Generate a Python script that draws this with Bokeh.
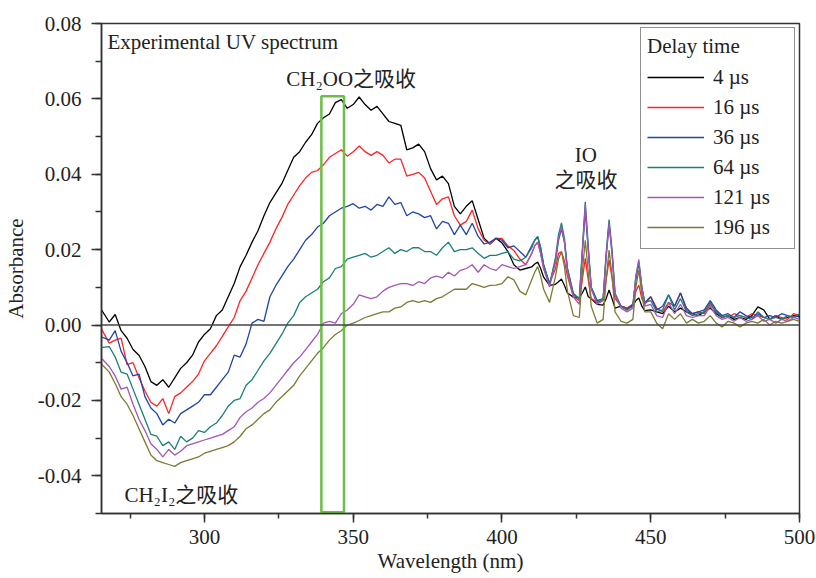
import numpy as np
from bokeh.plotting import figure
from bokeh.models import (Range1d, SingleIntervalTicker, NumeralTickFormatter, Span,
                          Label, Legend, LegendItem)
from bokeh.embed import file_html
from bokeh.resources import INLINE

# ---------------- data (absorbance values in units of 1e-3) ----------------
wavelength_nm = [
    265, 268, 270, 272, 274, 276, 278, 280, 282, 284, 286, 288, 290, 292, 294, 296, 298, 300,
    302, 304, 306, 308, 310, 312, 314, 316, 318, 320, 322, 324, 326, 328, 330, 332, 334, 336,
    338, 340, 342, 344, 346, 348, 350, 352, 354, 356, 358, 360, 362, 364, 366, 368, 370, 372,
    374, 376, 378, 380, 382, 384, 386, 388, 390, 392, 394, 396, 398, 400, 402, 404, 406, 408, 410,
    411, 412, 413, 414, 416, 418, 419, 420, 421, 422, 424, 426, 427, 428, 429, 430, 432, 434,
    435, 436, 437, 438, 440, 442, 444, 445, 446, 447, 448, 450,
    452, 454, 456, 458, 460, 462, 464, 466, 468, 470, 472, 474, 476, 478, 480, 482, 484, 486,
    488, 490, 492, 494, 496, 498, 500]

abs_4us = [
    4.5, 0.8, 2.8, -1.5, -3.5, -6.5, -8.0, -11.0, -15.0, -16.0, -14.5, -16.5, -14.0, -11.5, -10.0, -8.0, -4.5, -2.5,
    -1.0, 2.5, 4.0, 7.5, 11.0, 15.5, 18.5, 22.0, 25.0, 29.0, 32.5, 35.0, 37.5, 41.0, 44.5, 46.0, 48.5, 50.5,
    53.5, 55.0, 56.0, 59.0, 59.8, 57.5, 58.5, 60.5, 58.5, 57.0, 58.0, 56.0, 54.0, 53.5, 53.0, 46.5, 47.0, 48.0,
    46.0, 41.5, 38.5, 39.5, 37.5, 31.5, 29.5, 31.5, 33.0, 28.0, 23.0, 21.5, 23.0, 21.8, 19.5, 16.0, 14.6, 15.0, 15.4,
    16.2, 16.7, 15.0, 12.7, 10.5, 10.8, 11.5, 12.2, 10.5, 8.5, 7.4, 7.2, 8.5, 10.1, 7.5, 7.0, 5.5, 5.3,
    7.0, 9.3, 7.0, 4.5, 5.0, 4.5, 5.0, 6.5, 7.2, 5.0, 3.8, 4.0,
    3.5, 3.0, 5.0, 3.5, 4.5, 3.5, 3.0, 2.5, 3.5, 4.5, 3.0, 2.0, 2.5, 1.5, 2.0, 1.5, 2.5, 4.8,
    4.0, 1.5, 2.5, 1.5, 2.0, 2.5, 2.2]

abs_16us = [
    -0.5, -4.8, -4.0, -3.5, -10.5, -10.0, -14.0, -17.5, -20.5, -21.5, -19.5, -23.5, -19.0, -18.0, -16.5, -15.0, -13.0, -9.5,
    -7.5, -5.5, -3.0, -0.5, 2.0, 6.5, 9.0, 12.5, 16.0, 19.0, 22.0, 25.5, 28.5, 32.0, 34.5, 37.0, 39.0, 40.5,
    41.0, 42.5, 44.5, 45.5, 46.5, 44.8, 46.0, 47.5, 46.0, 45.0, 46.0, 45.0, 43.0, 44.0, 44.0, 39.5, 40.0, 40.5,
    39.0, 35.5, 32.0, 33.5, 34.0, 29.0, 26.5, 27.5, 30.5, 25.5, 22.5, 21.5, 23.0, 23.0, 21.0, 19.8, 17.5, 16.0, 19.0,
    21.0, 22.0, 19.0, 15.0, 11.1, 15.0, 19.0, 19.4, 17.0, 13.0, 7.5, 6.5, 12.0, 17.7, 12.0, 7.0, 6.0, 6.5,
    12.0, 17.2, 12.5, 7.0, 5.0, 4.5, 5.5, 9.0, 10.6, 7.0, 5.5, 7.5,
    4.5, 3.5, 6.0, 5.0, 8.5, 4.0, 3.0, 3.5, 3.0, 5.5, 3.5, 2.5, 2.0, 3.0, 2.5, 2.0, 3.0, 2.5,
    2.0, 1.5, 2.5, 2.0, 1.5, 3.0, 2.5]

abs_36us = [
    -3.0, -4.0, -1.5, -7.0, -10.0, -13.5, -13.0, -19.0, -22.0, -23.5, -26.5, -25.0, -26.0, -23.5, -22.5, -21.5, -20.5, -18.5,
    -18.5, -16.5, -14.5, -12.5, -8.0, -8.5, -5.0, 0.5, 1.5, 1.0, 7.5, 10.5, 13.0, 15.5, 17.5, 20.0, 22.5, 24.0,
    26.0, 27.0, 29.0, 30.0, 31.0, 31.5, 32.2, 31.0, 31.5, 30.5, 32.0, 31.5, 34.0, 32.0, 32.5, 29.0, 30.0, 29.5,
    28.5, 29.0, 25.5, 27.5, 27.0, 24.0, 26.5, 24.0, 27.0, 23.5, 21.5, 22.0, 23.0, 22.5, 20.5, 21.0, 19.5, 18.0, 21.0,
    22.5, 23.4, 20.5, 16.0, 11.0, 17.0, 22.5, 25.5, 22.0, 15.0, 8.4, 7.0, 19.0, 30.5, 20.0, 10.0, 6.5, 7.0,
    18.0, 27.0, 19.0, 8.0, 5.0, 4.0, 5.5, 12.0, 16.5, 10.0, 6.0, 7.5,
    4.0, 5.0, 8.0, 5.0, 8.5, 4.5, 3.0, 3.5, 4.0, 6.5, 4.0, 2.5, 3.0, 2.0, 3.5, 2.5, 2.0, 3.0,
    2.0, 2.5, 2.0, 3.0, 2.5, 2.0, 2.5]

abs_64us = [
    -6.0, -5.7, -8.5, -12.5, -13.0, -17.0, -21.0, -25.0, -29.0, -29.5, -32.0, -31.0, -33.0, -29.5, -31.0, -30.0, -28.0, -28.5,
    -27.0, -26.0, -24.0, -21.5, -20.0, -19.5, -16.0, -14.5, -12.0, -9.5, -7.5, -5.0, -2.5, 0.5, 2.5, 6.0, 7.5, 8.5,
    9.5, 11.5, 12.5, 15.0, 15.5, 17.5, 18.0, 18.5, 19.0, 18.0, 18.5, 19.5, 20.5, 19.0, 20.0, 19.5, 20.5, 20.5,
    19.5, 19.5, 18.5, 20.5, 22.0, 19.5, 20.0, 20.0, 20.5, 19.0, 17.7, 18.5, 18.5, 19.0, 19.4, 17.5, 17.0, 18.0, 20.5,
    22.5, 23.5, 20.5, 16.0, 10.6, 18.0, 24.0, 27.1, 23.0, 15.0, 8.0, 7.0, 20.0, 32.7, 21.0, 10.0, 6.0, 7.0,
    19.0, 28.0, 20.0, 8.5, 5.0, 4.0, 5.0, 13.0, 16.8, 10.0, 6.0, 6.5,
    3.5, 4.0, 8.0, 4.0, 7.0, 3.5, 2.5, 3.0, 3.5, 6.0, 3.5, 2.0, 2.5, 2.0, 2.5, 2.0, 1.5, 3.5,
    2.0, 1.5, 2.0, 1.5, 2.5, 2.0, 3.0]

abs_121us = [
    -8.5, -11.0, -13.5, -17.0, -16.5, -21.0, -25.0, -28.0, -31.5, -33.0, -35.0, -33.0, -34.5, -33.5, -32.0, -31.5, -31.0, -30.5,
    -30.0, -29.5, -29.0, -28.0, -27.0, -24.5, -23.0, -22.0, -20.5, -19.5, -18.0, -16.0, -14.0, -12.0, -10.0, -8.5, -6.5, -4.5,
    -2.5, 0.5, 1.0, 0.5, 3.0, 4.0, 5.5, 8.0, 7.5, 7.0, 7.5, 9.0, 10.0, 10.5, 11.0, 11.0, 10.5, 11.5,
    11.0, 12.5, 13.0, 12.5, 14.0, 13.0, 14.5, 15.0, 16.0, 14.0, 16.0, 15.0, 14.5, 16.0, 15.5, 15.0, 15.5, 16.0, 19.0,
    21.0, 22.0, 19.0, 15.0, 10.1, 17.0, 23.0, 26.0, 22.0, 14.0, 7.5, 5.5, 19.0, 31.8, 20.0, 9.5, 5.5, 6.5,
    18.0, 27.0, 19.0, 8.0, 4.5, 3.5, 4.5, 13.0, 17.4, 10.0, 5.0, 5.5,
    2.5, 2.0, 6.0, 3.0, 5.5, 2.5, 2.0, 2.5, 2.5, 5.0, 2.5, 1.5, 2.0, 1.0, 2.0, 1.0, 1.5, 2.5,
    1.0, 1.5, 0.5, 1.5, 1.0, 2.0, 1.5]

abs_196us = [
    -10.0, -12.5, -15.5, -19.0, -21.0, -24.0, -27.5, -31.0, -34.5, -36.0, -36.5, -37.0, -37.5, -36.5, -36.0, -35.5, -35.0, -34.0,
    -33.5, -33.0, -32.5, -32.0, -31.0, -29.5, -27.5, -26.5, -25.0, -23.5, -22.5, -20.5, -19.0, -17.5, -16.0, -13.5, -11.5, -9.5,
    -7.5, -6.0, -4.0, -2.5, -1.5, 0.0, 0.5, 1.2, 2.0, 2.5, 3.0, 3.5, 3.5, 4.5, 4.8, 6.0, 6.5, 6.0,
    6.5, 6.0, 7.0, 7.5, 8.5, 9.5, 9.5, 9.5, 11.0, 10.5, 10.0, 10.5, 10.6, 11.0, 12.8, 12.0, 9.0, 8.0, 12.0,
    14.0, 15.5, 13.0, 9.5, 6.0, 13.0, 17.5, 19.5, 15.5, 9.0, 2.5, 2.0, 14.0, 22.5, 14.0, 5.0, 0.5, 1.5,
    12.0, 19.9, 13.0, 3.5, 1.0, 0.5, 1.5, 10.0, 14.6, 8.0, 3.5, 3.5,
    0.5, -1.0, 3.0, 1.5, 3.0, 0.5, 1.5, 0.5, 1.0, 2.5, 0.5, -0.5, 1.0, 0.5, -0.5, 0.5, 1.0, 0.5,
    1.5, 0.0, 1.0, 0.5, 1.0, 1.5, 1.0]

delay_labels = ["4 µs", "16 µs", "36 µs", "64 µs", "121 µs", "196 µs"]
series_milli = [abs_4us, abs_16us, abs_36us, abs_64us, abs_121us, abs_196us]
line_colors = ["#000000", "#ff2424", "#1f45a8", "#1b7f78", "#a455b6", "#7c7a30"]

highlight_nm = (339.3, 346.9)        # CH2OO band marker (nm)
highlight_top = 0.0607

# ---------------- figure ----------------
FONT = "'Liberation Serif', 'Noto Sans CJK SC'"
INK = "#222222"

p = figure(width=816, height=578, output_backend="svg", toolbar_location=None,
           x_range=Range1d(265.4, 500), y_range=Range1d(-0.05, 0.08),
           min_border_left=100, min_border_right=17, min_border_top=23, min_border_bottom=65)
p.title.visible = False
p.background_fill_color = "white"
p.border_fill_color = "white"
p.outline_line_color = "#333333"
p.outline_line_width = 1.5
p.xgrid.visible = False
p.ygrid.visible = False

p.xaxis.ticker = SingleIntervalTicker(interval=50, num_minor_ticks=2)
p.yaxis.ticker = SingleIntervalTicker(interval=0.02, num_minor_ticks=2)
p.yaxis.formatter = NumeralTickFormatter(format="0.00")

p.xaxis.axis_label = "Wavelength (nm)"
p.yaxis.axis_label = "Absorbance"
p.axis.axis_line_color = "#333333"
p.axis.axis_line_width = 1.5
p.axis.major_tick_line_color = "#333333"
p.axis.minor_tick_line_color = "#333333"
p.axis.major_tick_line_width = 1.5
p.axis.minor_tick_line_width = 1.5
p.axis.major_tick_in = 0
p.axis.minor_tick_in = 0
p.axis.major_label_text_font = FONT
p.axis.major_label_text_font_size = "21px"
p.axis.major_label_text_color = INK
p.axis.axis_label_text_font = FONT
p.axis.axis_label_text_font_size = "21px"
p.axis.axis_label_text_font_style = "normal"
p.axis.axis_label_text_color = INK

p.xaxis.major_tick_out = 9
p.xaxis.minor_tick_out = 5
p.xaxis.major_label_standoff = 7
p.xaxis.axis_label_standoff = 2

p.yaxis.major_tick_out = 10
p.yaxis.minor_tick_out = 6
p.yaxis.major_label_standoff = 10
p.yaxis.axis_label_standoff = 7

p.add_layout(Span(location=0, dimension="width", line_color="#444444", line_width=1.5))

renderers = []
for vals, col in zip(series_milli, line_colors):
    r = p.line(wavelength_nm, np.array(vals) / 1000.0, line_color=col, line_width=1.3)
    renderers.append(r)

p.quad(left=[highlight_nm[0]], right=[highlight_nm[1]], bottom=[-0.0497], top=[highlight_top],
       fill_alpha=0, line_color="#6cbf46", line_width=2.5)

def add_label(x, y, text, align="left"):
    p.add_layout(Label(x=x, y=y, text=text, text_font=FONT, text_font_size="21px",
                       text_color=INK, text_align=align, text_baseline="middle"))

add_label(267.4, 0.0750, "Experimental UV spectrum")
add_label(327.5, 0.0653, "CH₂OO之吸收")
add_label(428.2, 0.0450, "IO", align="center")
add_label(428.2, 0.0384, "之吸收", align="center")
add_label(273.1, -0.0450, "CH₂I₂之吸收")

legend = Legend(items=[LegendItem(label=lab, renderers=[r]) for lab, r in zip(delay_labels, renderers)],
                title="Delay time", location="top_right")
legend.title_text_font = FONT
legend.title_text_font_size = "21px"
legend.title_text_font_style = "normal"
legend.title_text_color = INK
legend.title_standoff = 3
legend.label_text_font = FONT
legend.label_text_font_size = "21px"
legend.label_text_color = INK
legend.glyph_width = 57
legend.glyph_height = 30
legend.label_height = 30
legend.label_width = 75
legend.label_standoff = 9
legend.spacing = 0
legend.padding = 6
legend.margin = 4
legend.border_line_color = "#222222"
legend.border_line_width = 1.5
legend.background_fill_alpha = 1.0
p.add_layout(legend)

open("out.html", "w").write(file_html(p, INLINE))
